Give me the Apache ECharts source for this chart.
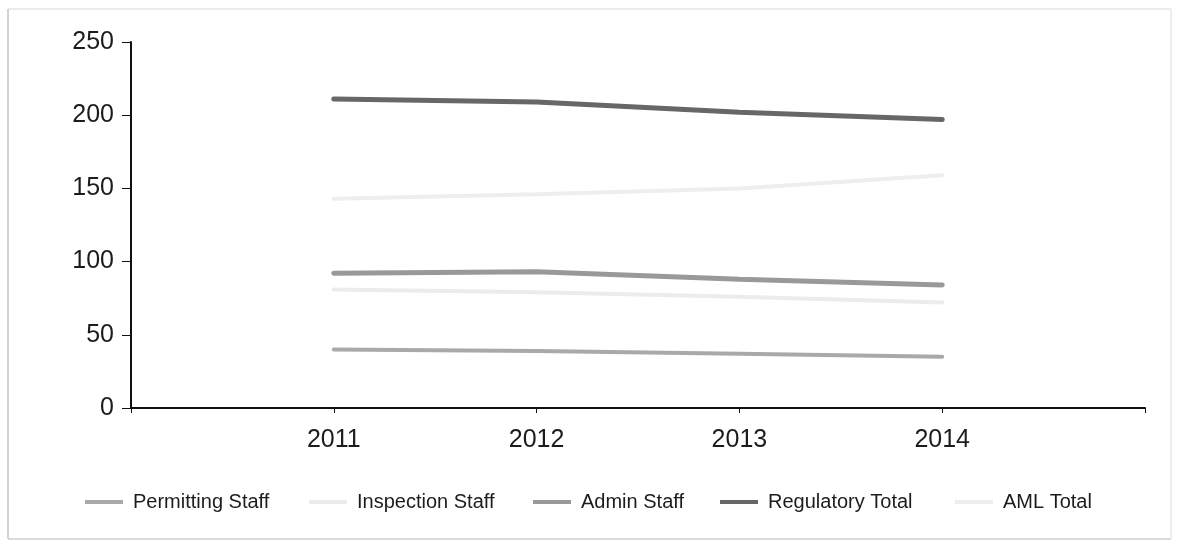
<!DOCTYPE html>
<html>
<head>
<meta charset="utf-8">
<style>
  html, body { margin: 0; padding: 0; background: #ffffff; }
  #chart { width: 1184px; height: 542px; }
</style>
<script src="https://cdn.jsdelivr.net/npm/echarts@6/dist/echarts.min.js"></script>
</head>
<body>
<div id="chart"></div>
<script>
// Staffing levels by year
const years = [2011, 2012, 2013, 2014];
const seriesNames = ['Permitting Staff', 'Inspection Staff', 'Admin Staff', 'Regulatory Total', 'AML Total'];
const permittingStaff = [40, 39, 37, 35];
const inspectionStaff = [81, 79, 76, 72];
const adminStaff = [92, 93, 88, 84];
const regulatoryTotal = [211, 209, 202, 197];
const amlTotal = [143, 146, 150, 159];
const yTicks = [0, 50, 100, 150, 200, 250];

const values = [permittingStaff, inspectionStaff, adminStaff, regulatoryTotal, amlTotal];
const colors = ['#a9a9a9', '#ececec', '#999999', '#676767', '#eeeeee'];
const widths = [4, 4, 5, 5, 4];
const legendLeft = [85, 309, 533, 720, 955];

const font = 'Arial, "Liberation Sans", sans-serif';

const chart = echarts.init(document.getElementById('chart'), null, { renderer: 'canvas' });

const series = seriesNames.map((name, i) => ({
  name: name,
  type: 'line',
  data: years.map((y, j) => [y, values[i][j]]),
  symbol: 'none',
  smooth: false,
  lineStyle: { color: colors[i], width: widths[i], cap: 'round' },
  itemStyle: { color: colors[i] },
  z: i === 3 ? 5 : 3
}));

const legends = seriesNames.map((name, i) => ({
  data: [name],
  left: legendLeft[i],
  top: 492,
  padding: 0,
  icon: 'rect',
  itemWidth: 38,
  itemHeight: 4,
  textStyle: { fontFamily: font, fontSize: 20, color: '#1c1c1c', padding: [0, 0, 0, 5] },
  selectedMode: false
}));

// Outer frame: left and bottom edges a little stronger than top and right
const frame = [
  { x1: 8, y1: 9, x2: 1171, y2: 9, c: '#e4e4e4' },
  { x1: 1171, y1: 9, x2: 1171, y2: 539, c: '#e8e8e8' },
  { x1: 8, y1: 539, x2: 1171, y2: 539, c: '#cfcfcf' },
  { x1: 8, y1: 9, x2: 8, y2: 539, c: '#c4c4c4' }
].map(s => ({
  type: 'line',
  shape: { x1: s.x1, y1: s.y1, x2: s.x2, y2: s.y2 },
  style: { stroke: s.c, lineWidth: 1.5 },
  silent: true
}));

chart.setOption({
  backgroundColor: '#ffffff',
  animation: false,
  graphic: frame,
  legend: legends,
  grid: { left: 131, right: 39, top: 42, bottom: 134, containLabel: false },
  xAxis: {
    type: 'value',
    min: 2010,
    max: 2015,
    interval: 1,
    axisLine: { show: true, lineStyle: { color: '#111', width: 2 } },
    axisTick: { show: true, length: 5, inside: false, lineStyle: { color: '#111' } },
    splitLine: { show: false },
    axisLabel: {
      margin: 20,
      fontFamily: font,
      fontSize: 25,
      color: '#1c1c1c',
      formatter: v => (years.indexOf(v) >= 0 ? String(v) : '')
    }
  },
  yAxis: {
    type: 'value',
    min: yTicks[0],
    max: yTicks[yTicks.length - 1],
    interval: 50,
    axisLine: { show: true, lineStyle: { color: '#111', width: 2 } },
    axisTick: { show: true, length: 9, lineStyle: { color: '#111' } },
    splitLine: { show: false },
    axisLabel: {
      margin: 17,
      fontFamily: font,
      fontSize: 25,
      color: '#1c1c1c'
    }
  },
  series: series
});
</script>
</body>
</html>
